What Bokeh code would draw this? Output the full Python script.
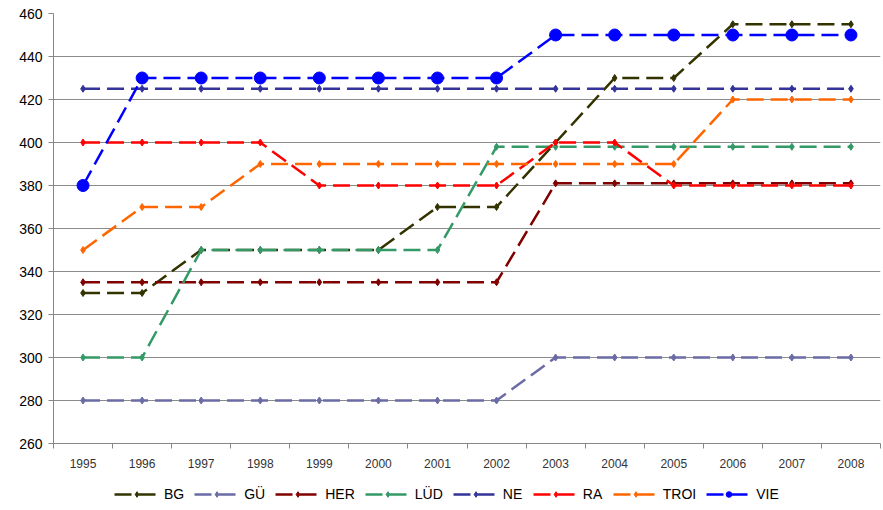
from bokeh.plotting import figure
from bokeh.layouts import column
from bokeh.models import Range1d, FixedTicker, Legend, LegendItem
from bokeh.embed import file_html
from bokeh.resources import INLINE

years = ["1995", "1996", "1997", "1998", "1999", "2000", "2001",
         "2002", "2003", "2004", "2005", "2006", "2007", "2008"]

bg   = [330, 330, 350, 350, 350, 350, 370, 370, 400, 430, 430, 455, 455, 455]
gu   = [280, 280, 280, 280, 280, 280, 280, 280, 300, 300, 300, 300, 300, 300]
her  = [335, 335, 335, 335, 335, 335, 335, 335, 381, 381, 381, 381, 381, 381]
lud  = [300, 300, 350, 350, 350, 350, 350, 398, 398, 398, 398, 398, 398, 398]
ne   = [425, 425, 425, 425, 425, 425, 425, 425, 425, 425, 425, 425, 425, 425]
ra   = [400, 400, 400, 400, 380, 380, 380, 380, 400, 400, 380, 380, 380, 380]
troi = [350, 370, 370, 390, 390, 390, 390, 390, 390, 390, 390, 420, 420, 420]
vie  = [380, 430, 430, 430, 430, 430, 430, 430, 450, 450, 450, 450, 450, 450]

names = ["BG", "GÜ", "HER", "LÜD", "NE", "RA", "TROI", "VIE"]
data = [bg, gu, her, lud, ne, ra, troi, vie]
colors = ["#333300", "#6B6BA6", "#800000", "#339966", "#333399",
          "#FF0000", "#FF6600", "#0000FF"]
y_ticks = list(range(260, 461, 20))

x = [i + 0.5 for i in range(len(years))]
DASH = "17 7"

p = figure(width=883, height=477,
           x_range=Range1d(0, len(years)), y_range=Range1d(260, 460),
           output_backend="svg", toolbar_location=None,
           min_border_left=53, min_border_right=3, min_border_top=13,
           min_border_bottom=34)
p.outline_line_color = None
p.background_fill_color = "white"

for name, vals, col in zip(names, data, colors):
    p.line(x, vals, line_color=col, line_width=2.5, line_dash=DASH)
    if name == "VIE":
        p.scatter(x, vals, marker="circle", size=12, color=col)
    else:
        p.scatter(x, vals, marker="diamond", size=7, color=col)

# axes
p.xaxis.ticker = FixedTicker(ticks=x, minor_ticks=list(range(len(years) + 1)))
p.xaxis.major_label_overrides = {xi: y for xi, y in zip(x, years)}
p.xaxis.major_tick_line_color = None
p.xaxis.minor_tick_out = 5
p.xaxis.minor_tick_in = 0
p.xaxis.minor_tick_line_color = "#868686"
p.xaxis.axis_line_color = "#868686"
p.xaxis.major_label_text_font = "Liberation Sans"
p.xaxis.major_label_text_font_size = "12px"
p.xaxis.major_label_text_color = "#333333"
p.xaxis.major_label_standoff = 9

p.yaxis.ticker = FixedTicker(ticks=y_ticks)
p.yaxis.major_tick_out = 5
p.yaxis.major_tick_in = 0
p.yaxis.minor_tick_line_color = None
p.yaxis.major_tick_line_color = "#868686"
p.yaxis.axis_line_color = "#868686"
p.yaxis.major_label_text_font = "Liberation Sans"
p.yaxis.major_label_text_font_size = "14px"
p.yaxis.major_label_text_color = "#000000"
p.yaxis.major_label_standoff = 6

p.xgrid.grid_line_color = None
p.ygrid.grid_line_color = "#8C8C8C"
p.ygrid.grid_line_width = 1
p.ygrid.ticker = FixedTicker(ticks=y_ticks)

# legend strip: separate figure holding the same series (drawn off-range,
# so only the legend shows)
lg = figure(width=883, height=33, x_range=Range1d(-1000, -999),
            y_range=Range1d(0, 1),
            output_backend="svg", toolbar_location=None,
            min_border_left=0, min_border_right=0, min_border_top=0,
            min_border_bottom=0)
lg.axis.visible = False
lg.grid.visible = False
lg.outline_line_color = None

items = []
for name, vals, col in zip(names, data, colors):
    rl = lg.line(x, vals, line_color=col, line_width=2.5, line_dash=DASH)
    if name == "VIE":
        rm = lg.scatter(x, vals, marker="circle", size=10, color=col)
    else:
        rm = lg.scatter(x, vals, marker="diamond", size=7, color=col)
    items.append(LegendItem(label=name, renderers=[rl, rm], index=0))

legend = Legend(items=items, orientation="horizontal", location=(61, 8),
                glyph_width=45, glyph_height=14, label_text_font="Liberation Sans",
                label_text_font_size="14px", label_text_color="#000000",
                label_standoff=5, spacing=10,
                border_line_color=None, background_fill_alpha=0,
                padding=0, margin=0)
lg.add_layout(legend, "center")

layout = column(p, lg, spacing=0)
open("out.html", "w").write(file_html(layout, INLINE))
